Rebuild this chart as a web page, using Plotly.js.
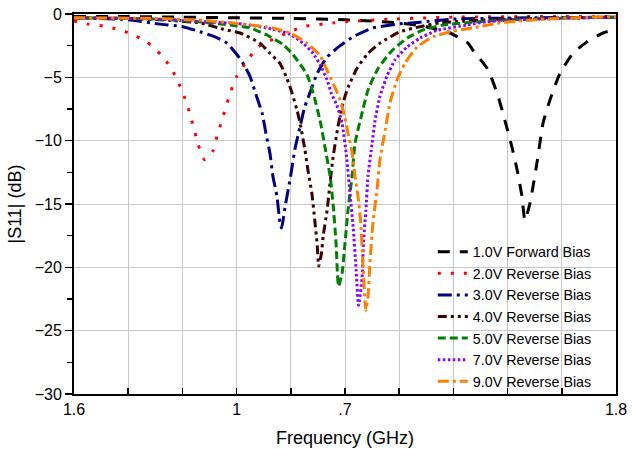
<!DOCTYPE html>
<html>
<head>
<meta charset="utf-8">
<script src="https://cdn.plot.ly/plotly-3.0.1.min.js"></script>
<style>html,body{margin:0;padding:0;background:#fff;}#chart{width:638px;height:449px;}</style>
</head>
<body>
<div id="chart"></div>
<script>
// Series names
const names = ["1.0V Forward Bias","2.0V Reverse Bias","3.0V Reverse Bias","4.0V Reverse Bias","5.0V Reverse Bias","7.0V Reverse Bias","9.0V Reverse Bias"];

// X tick labels (as printed on the reference)
const xTickVals = [1.6,1.62,1.64,1.66,1.68,1.70,1.72,1.74,1.76,1.78,1.80];
const xTickText = ["1.6","","","1","",".7","","","","","1.8"];

// 1.0V forward bias
const f1 = [1.6,1.62,1.64,1.66,1.68,1.70,1.72,1.73,1.7387,1.7454,1.7472,1.7528,1.7565,1.7590,1.7616,1.7635,1.7653,1.7664,1.7683,1.7708,1.7731,1.7756,1.7793,1.7841,1.7893,1.7952,1.80];
const s1 = [-0.2,-0.2,-0.25,-0.3,-0.35,-0.45,-0.7,-1.0,-1.5,-2.3,-2.85,-4.4,-6.5,-8.4,-10.5,-12.3,-14.4,-16.3,-14.9,-11.8,-8.6,-6.8,-4.7,-3.1,-2.2,-1.5,-1.2];

// 2.0V reverse bias
const f2 = [1.6,1.6052,1.6107,1.6162,1.6214,1.6269,1.6325,1.6362,1.6387,1.6410,1.6428,1.6443,1.6458,1.6482,1.6513,1.6528,1.6546,1.6561,1.6579,1.6601,1.6635,1.6679,1.6797,1.6845,1.6956,1.7011,1.7177,1.7399,1.77,1.8];
const s2 = [-0.55,-0.8,-0.95,-1.2,-1.6,-2.2,-3.3,-4.4,-5.5,-6.7,-7.9,-9.1,-10.3,-11.5,-10.8,-9.6,-8.4,-7.3,-6.1,-4.9,-3.8,-2.6,-1.4,-1.0,-0.7,-0.6,-0.4,-0.25,-0.2,-0.2];

// 3.0V reverse bias
const f3 = [1.6,1.61,1.62,1.6317,1.6402,1.6465,1.6520,1.6565,1.6601,1.6624,1.6649,1.6675,1.6694,1.6708,1.6723,1.6734,1.6749,1.6760,1.6766,1.6779,1.6797,1.6815,1.6834,1.6852,1.6878,1.6897,1.6934,1.6982,1.7030,1.7103,1.7192,1.7277,1.7399,1.77,1.8];
const s3 = [-0.3,-0.35,-0.45,-0.8,-1.0,-1.4,-1.8,-2.3,-3.2,-3.9,-4.9,-6.6,-7.8,-9.4,-11.0,-12.8,-14.4,-16.5,-16.9,-15.2,-13.1,-10.7,-8.9,-7.3,-5.8,-4.7,-3.4,-2.5,-1.8,-1.1,-0.8,-0.65,-0.4,-0.3,-0.25];

// 4.0V reverse bias
const f4 = [1.6,1.62,1.635,1.6465,1.6550,1.6613,1.6686,1.6723,1.6760,1.6786,1.6804,1.6823,1.6834,1.6852,1.6863,1.6878,1.6888,1.6897,1.6903,1.6913,1.6919,1.6934,1.6945,1.6956,1.6974,1.6993,1.7011,1.7044,1.7085,1.7129,1.7203,1.7277,1.7351,1.76,1.8];
const s4 = [-0.3,-0.35,-0.5,-0.7,-1.2,-1.5,-2.3,-3.1,-3.9,-5.1,-6.2,-7.6,-8.6,-10.7,-12.3,-14.2,-16.2,-18.1,-19.9,-18.9,-17.6,-15.5,-13.3,-11.3,-8.9,-7.0,-5.8,-4.3,-3.1,-2.3,-1.4,-1.0,-0.7,-0.4,-0.25];

// 5.0V reverse bias
const f5 = [1.6,1.63,1.645,1.6576,1.6649,1.6712,1.6771,1.6808,1.6860,1.6882,1.6908,1.6926,1.6945,1.6956,1.6967,1.6976,1.6989,1.7000,1.7011,1.7026,1.7037,1.7063,1.7085,1.7122,1.7173,1.7229,1.7288,1.7362,1.76,1.8];
const s5 = [-0.3,-0.4,-0.6,-0.87,-1.1,-1.66,-2.4,-3.2,-4.8,-6.2,-8.4,-10.5,-12.8,-15.0,-18.1,-21.5,-20.5,-18.1,-15.5,-12.8,-10.2,-7.8,-6.0,-4.3,-2.9,-1.9,-1.26,-0.87,-0.45,-0.25];

// 7.0V reverse bias
const f7 = [1.6,1.63,1.6476,1.6624,1.6734,1.6797,1.6845,1.6882,1.6908,1.6934,1.6950,1.6970,1.6989,1.7007,1.7018,1.7030,1.7041,1.7050,1.7063,1.7068,1.7077,1.7085,1.7100,1.7111,1.7129,1.7155,1.7185,1.7229,1.7277,1.7339,1.7450,1.7524,1.77,1.8];
const s7 = [-0.3,-0.4,-0.6,-0.8,-1.2,-1.6,-2.3,-3.1,-4.0,-5.2,-6.3,-7.2,-8.6,-11.5,-14.1,-16.8,-20.2,-23.0,-20.8,-18.1,-15.5,-12.8,-10.2,-8.4,-6.5,-4.9,-3.6,-2.6,-1.9,-1.3,-0.87,-0.6,-0.4,-0.25];

// 9.0V reverse bias
const f9 = [1.6,1.63,1.6476,1.6624,1.6734,1.6797,1.6860,1.6908,1.6937,1.6963,1.6982,1.7000,1.7011,1.7026,1.7037,1.7048,1.7058,1.7066,1.7077,1.7085,1.7092,1.7103,1.7118,1.7129,1.7148,1.7166,1.7192,1.7221,1.7266,1.7325,1.7399,1.7472,1.7572,1.7694,1.7893,1.8];
const s9 = [-0.3,-0.35,-0.5,-0.8,-1.1,-1.5,-2.3,-3.3,-4.6,-5.8,-6.8,-8.2,-9.4,-10.9,-12.8,-14.4,-16.5,-19.7,-23.4,-22.3,-19.7,-16.5,-13.9,-11.5,-9.2,-7.0,-5.2,-3.9,-2.6,-1.8,-1.35,-1.1,-0.7,-0.47,-0.25,-0.22];

const xs = [f1,f2,f3,f4,f5,f7,f9];
const ys = [s1,s2,s3,s4,s5,s7,s9];
const colors = ["#000000","#ff0000","#000080","#3d0000","#008000","#8a00ff","#ff8000"];
const dashes = ["12px,10px","3px,10px","14px,5px,3px,5px","9px,4px,3px,4px,3px,4px","8px,4px","2.5px,2.5px","11px,4px,3px,4px"];

const traces = names.map((n,i)=>({
  x: xs[i], y: ys[i], name: n, type: "scatter", mode: "lines",
  line: {color: colors[i], width: 3, dash: dashes[i], shape: "spline", smoothing: 0.5}
}));

const layout = {
  width: 638, height: 449,
  margin: {l: 74, r: 22, t: 14, b: 55},
  paper_bgcolor: "#ffffff", plot_bgcolor: "#ffffff",
  font: {family: "Liberation Sans, Arial, sans-serif", size: 16, color: "#000"},
  showlegend: true,
  legend: {x: 0.662, y: 0.416, xanchor: "left", yanchor: "top", bgcolor: "rgba(0,0,0,0)", borderwidth: 0,
           font: {size: 14.3, family: "Liberation Sans, Arial, sans-serif"}, tracegroupgap: 0},
  xaxis: {
    range: [1.6, 1.8], tickmode: "array", tickvals: xTickVals, ticktext: xTickText,
    ticks: "inside", ticklen: 6, tickwidth: 1.5, tickcolor: "#000",
    tickfont: {size: 16},
    showgrid: true, gridcolor: "#c8c8c8", gridwidth: 1,
    showline: true, linecolor: "#000", linewidth: 2, mirror: true, zeroline: false,
    title: {text: "Frequency (GHz)", font: {size: 18}, standoff: 14},
    automargin: false
  },
  yaxis: {
    range: [-30, 0], tickmode: "linear", tick0: 0, dtick: 5,
    ticks: "outside", ticklen: 7, tickwidth: 1.5, tickcolor: "#000",
    tickfont: {size: 16},
    minor: {dtick: 2.5, ticks: "outside", ticklen: 5, tickcolor: "#000", showgrid: false},
    showgrid: true, gridcolor: "#c8c8c8", gridwidth: 1,
    showline: true, linecolor: "#000", linewidth: 2, mirror: true, zeroline: false,
    title: {text: "|S11| (dB)", font: {size: 18}, standoff: 8},
    automargin: false
  }
};

Plotly.newPlot("chart", traces, layout, {displayModeBar: false, staticPlot: true});
</script>
</body>
</html>
